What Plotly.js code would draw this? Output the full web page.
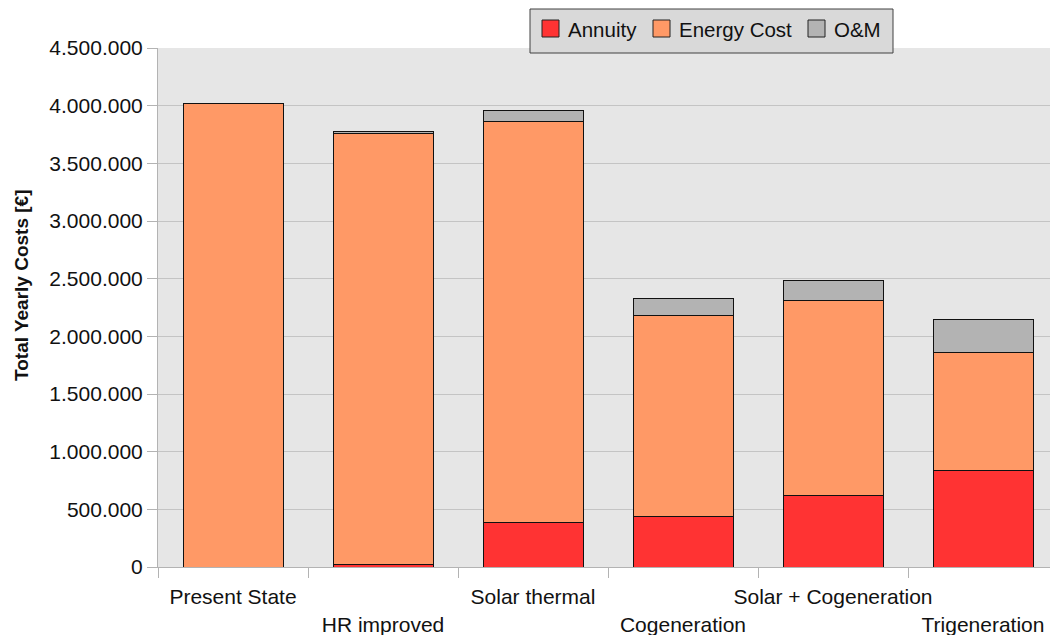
<!DOCTYPE html>
<html>
<head>
<meta charset="utf-8">
<script src="https://cdn.plot.ly/plotly-3.0.1.min.js"></script>
<style>
html,body{margin:0;padding:0;overflow:hidden;background:#fff;}
#chart{width:1058px;height:635px;}
</style>
</head>
<body>
<div id="chart"></div>
<script>
// ---- data ----
const categories = ["Present State", "HR improved", "Solar thermal", "Cogeneration", "Solar + Cogeneration", "Trigeneration"];
const annuity    = [0, 25000, 382000, 442000, 624000, 841000];
const energyCost = [4023000, 3730000, 3478000, 1735000, 1683000, 1015000];
const oAndM      = [0, 24000, 95000, 147000, 173000, 286000];
const seriesNames = ["Annuity", "Energy Cost", "O&M"];
const tickValues = [0, 500000, 1000000, 1500000, 2000000, 2500000, 3000000, 3500000, 4000000, 4500000];
const yTitle = "Total Yearly Costs [€]";

// ---- styles ----
const colors = ["#ff3333", "#ff9966", "#b3b3b3"];
const font = "Liberation Sans, Arial, sans-serif";
const L = 158, T = 48, W = 900, H = 519;
const px = x => (x - L) / W;
const py = y => (T + H - y) / H;

const staggered = categories.map((c, i) => i % 2 === 1 ? "<br>" + c : c);

const series = [annuity, energyCost, oAndM];
const traces = series.map((vals, k) => ({
  type: "bar",
  name: seriesNames[k],
  x: categories,
  y: vals,
  marker: {color: colors[k], line: {color: "#111", width: 1}},
  hoverinfo: "x+y+name"
}));

const shapes = [];
const annotations = [];
// custom legend box
shapes.push({type: "rect", xref: "paper", yref: "paper", x0: px(530), x1: px(893), y0: py(53), y1: py(9),
  fillcolor: "#d9d9d9", line: {color: "#404040", width: 1}, layer: "above"});
const legSq = [542, 653, 808];
const legTx = [566, 677, 832];
seriesNames.forEach((n, k) => {
  shapes.push({type: "rect", xref: "paper", yref: "paper", x0: px(legSq[k]), x1: px(legSq[k] + 17),
    y0: py(37), y1: py(20), fillcolor: colors[k], line: {color: "#222", width: 1}, layer: "above"});
  annotations.push({xref: "paper", yref: "paper", x: px(legTx[k]), y: py(30), xanchor: "left", yanchor: "middle",
    text: n, showarrow: false, font: {family: font, size: 20.5, color: "#111"}});
});
// y-axis title
annotations.push({xref: "paper", yref: "paper", x: px(21), y: py(286), xanchor: "center", yanchor: "middle",
  text: "<b>" + yTitle + "</b>", textangle: -90, showarrow: false, font: {family: font, size: 19, color: "#111"}});

const layout = {
  width: 1058, height: 635,
  margin: {l: L, r: 0, t: T, b: 635 - T - H},
  paper_bgcolor: "#ffffff",
  plot_bgcolor: "#e6e6e6",
  barmode: "stack",
  bargap: 1/3,
  showlegend: false,
  separators: ",.",
  font: {family: font, size: 20, color: "#111"},
  xaxis: {
    type: "category",
    tickmode: "array",
    tickvals: categories,
    ticktext: staggered,
    tickangle: 0,
    tickson: "boundaries",
    ticks: "outside", ticklen: 10, tickcolor: "#b3b3b3", tickwidth: 1,
    ticklabelstandoff: 11,
    showline: true, linecolor: "#b3b3b3", linewidth: 1,
    showgrid: false, zeroline: false,
    tickfont: {family: font, size: 21, color: "#111"},
    fixedrange: true
  },
  yaxis: {
    range: [0, 4500000],
    tickmode: "array",
    tickvals: tickValues,
    tickformat: ",d",
    ticks: "outside", ticklen: 10, tickcolor: "#b3b3b3", tickwidth: 1,
    showline: true, linecolor: "#b3b3b3", linewidth: 1,
    showgrid: true, gridcolor: "#c4c4c4", gridwidth: 1,
    zeroline: false,
    tickfont: {family: font, size: 21, color: "#111"},
    fixedrange: true
  },
  shapes: shapes,
  annotations: annotations
};

Plotly.newPlot("chart", traces, layout, {displayModeBar: false, staticPlot: true});
</script>
</body>
</html>
